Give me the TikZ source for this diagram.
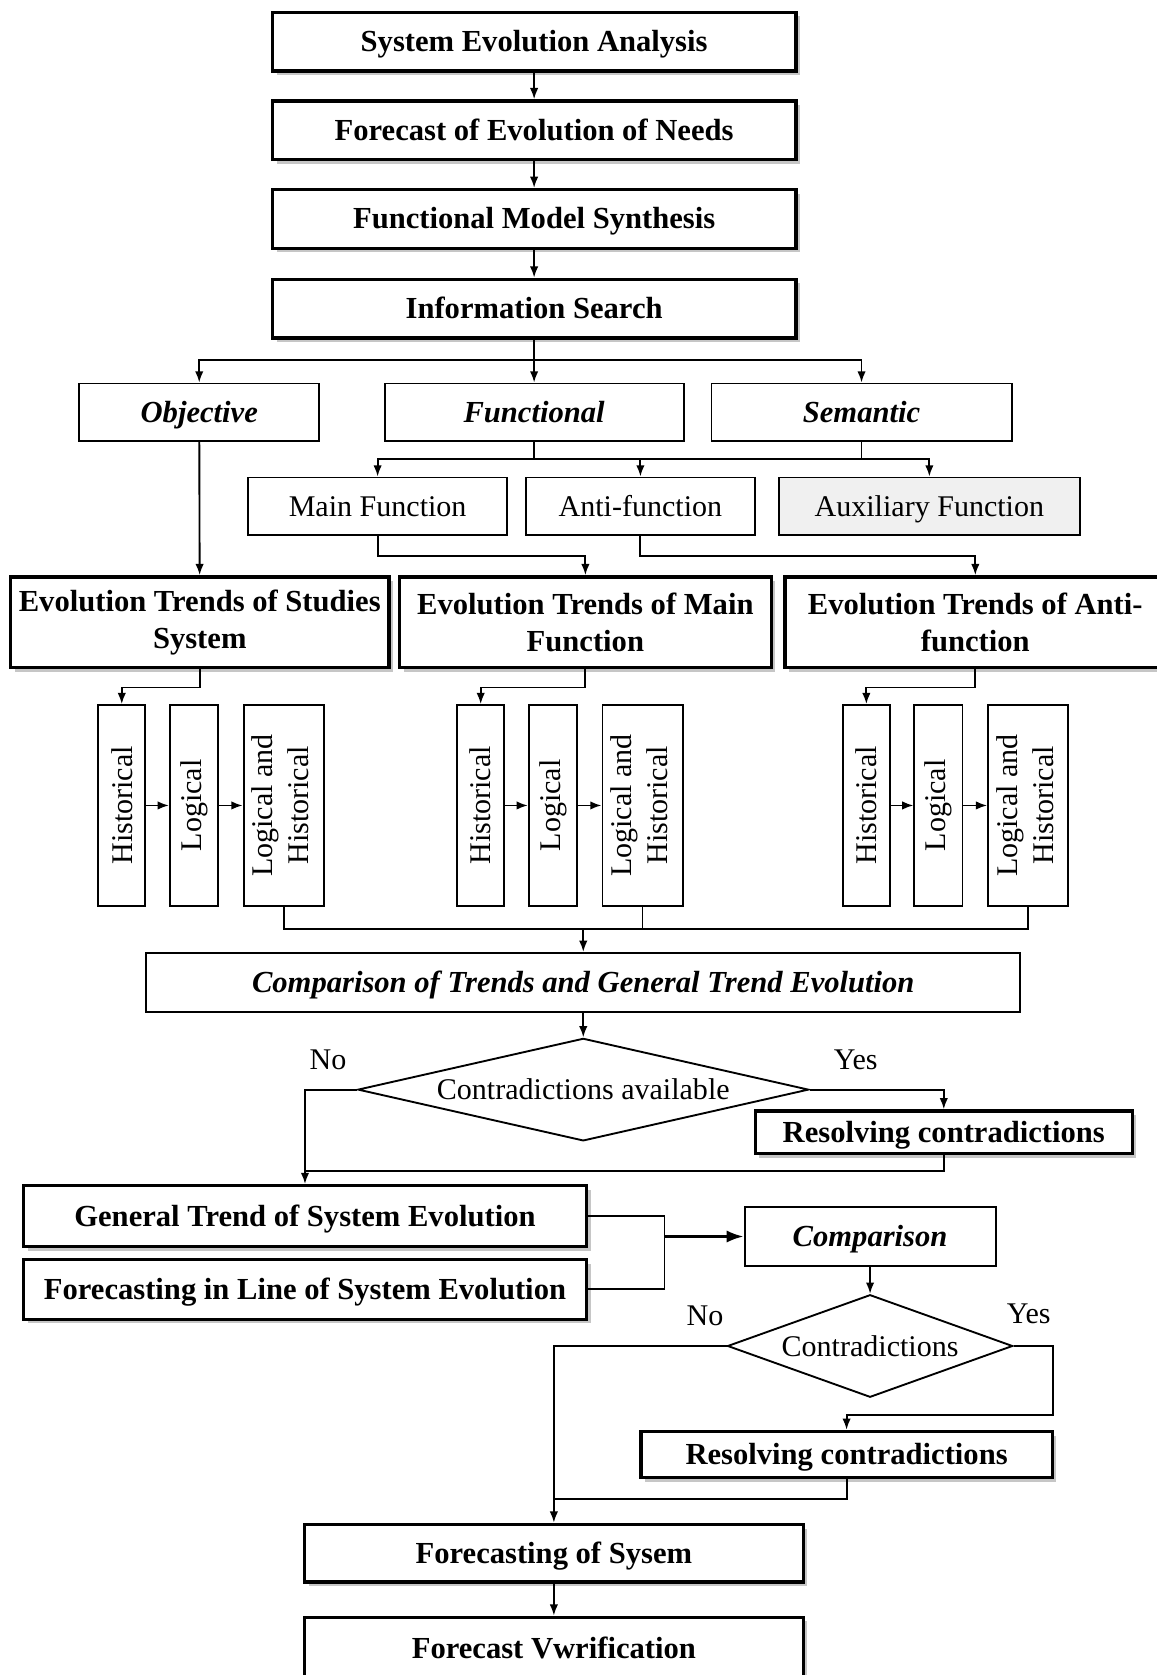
\documentclass[tikz,border=0pt]{standalone}
\usepackage{fontspec}
\setmainfont{Liberation Serif}
\usepackage{graphicx}
\usetikzlibrary{arrows.meta,positioning,calc,shapes.geometric,shadows}

\tikzset{
  sz/.style 2 args={minimum width=#1*0.2mm,minimum height=#2*0.2mm},
  oneline/.style={text height=12pt,text depth=1.5pt},
  mainbox/.style={draw,line width=1.8pt,fill=white,inner sep=1pt,align=center,
    font=\fontsize{16.3}{19.5}\selectfont\bfseries,
    drop shadow={shadow xshift=2.2pt,shadow yshift=-2.2pt,fill=gray!45,opacity=1}},
  catbox/.style={draw,line width=1pt,inner sep=1pt,oneline,font=\fontsize{16.3}{19.5}\selectfont\bfseries\itshape},
  funbox/.style={draw,line width=1pt,inner sep=1pt,oneline,font=\fontsize{16}{19}\selectfont},
  vbox/.style={draw,line width=1pt,inner sep=0pt,font=\fontsize{16}{19}\selectfont},
  decision/.style={diamond,draw,line width=1pt,inner sep=0pt,font=\fontsize{16}{19}\selectfont},
  ans/.style={font=\fontsize{16}{19}\selectfont},
  link/.style={line width=1pt},
  arr/.style={link,-{Latex[length=6pt,width=4.5pt]}},
  bigarr/.style={line width=1.5pt,-{Latex[length=9pt,width=6.5pt]}},
}

\begin{document}
\begin{tikzpicture}[x=0.2mm,y=-0.2mm]
  \useasboundingbox (0,0) rectangle (1083,1568);
  \clip (0,0) rectangle (1083,1568);

  % analysis chain
  \node[mainbox,oneline,sz={490}{55}] (sea) at (500,39) {System Evolution Analysis};
  \node[mainbox,oneline,sz={490}{55}] (fen) at (500,122) {Forecast of Evolution of Needs};
  \node[mainbox,oneline,sz={490}{55}] (fms) at (500,205) {Functional Model Synthesis};
  \node[mainbox,oneline,sz={490}{55}] (search) at (500,289) {Information Search};
  \draw[arr] (sea) -- (fen);
  \draw[arr] (fen) -- (fms);
  \draw[arr] (fms) -- (search);

  % kinds of information
  \node[catbox,sz={225}{54}] (obj) at (186.5,386) {Objective};
  \node[catbox,sz={280}{54}] (fun) at (500,386) {Functional};
  \node[catbox,sz={281}{54}] (sem) at (806.5,386) {Semantic};
  \coordinate (br1) at (500,337);
  \draw[link] (search) -- (br1);
  \draw[arr] (br1) -| (obj.north);
  \draw[arr] (br1) -- (fun);
  \draw[arr] (br1) -| (sem.north);

  \node[funbox,sz={243}{54}] (mf) at (353.5,474) {Main Function};
  \node[funbox,sz={215}{54}] (af) at (599.5,474) {Anti-function};
  \node[funbox,sz={282}{54},fill=gray!12] (aux) at (870,474) {Auxiliary Function};
  \coordinate (br2) at (599.5,430);
  \draw[link] (fun.south) -- (fun.south |- br2);
  \draw[link] (sem.south) -- (sem.south |- br2);
  \draw[arr] (br2) -| (mf.north);
  \draw[arr] (br2) -- (af);
  \draw[arr] (br2) -| (aux.north);

  % trends
  \node[mainbox,sz={354}{85}] (ets) at (187,582.5) {Evolution Trends of Studies\\System};
  \node[mainbox,sz={348}{85}] (etm) at (548,582.5) {Evolution Trends of Main\\Function};
  \node[mainbox,sz={356}{85}] (eta) at (913,582.5) {Evolution Trends of Anti-\\function};
  \draw[arr] (obj) -- (ets);
  \draw[arr] (mf.south) -- ++(0,19) -| (etm.north);
  \draw[arr] (af.south) -- ++(0,19) -| (eta.north);

  \coordinate (br3) at (546,870);
  \foreach \g/\x/\up in {1/114/ets,2/450/etm,3/811/eta}{
    \node[vbox,sz={44}{188}] (h\g) at (\x,754) {\rotatebox{90}{Historical}};
    \node[vbox,sz={45}{188}] (l\g) at (\x+67.5,754) {\rotatebox{90}{Logical}};
    \node[vbox,sz={75}{188}] (lh\g) at (\x+151.5,754)
      {\rotatebox{90}{\begin{tabular}{@{}c@{}}Logical and\\Historical\end{tabular}}};
    \draw[arr] (\up.south) -- ++(0,17) -| (h\g.north);
    \draw[arr] (h\g) -- (l\g);
    \draw[arr] (l\g) -- (lh\g);
    \draw[link] (lh\g.south) |- (br3);
  }

  \node[catbox,sz={818}{55}] (ctr) at (546,919.5) {Comparison of Trends and General Trend Evolution};
  \draw[arr] (br3) -- (ctr);

  % first check
  \node[decision,aspect=4.4,sz={422}{96}] (d1) at (546,1020) {Contradictions available};
  \node[ans] (no1) at (307,992) {No};
  \node[ans] (yes1) at (801,992) {Yes};
  \node[mainbox,oneline,sz={353}{40}] (rc1) at (883.5,1060) {Resolving contradictions};
  \node[mainbox,oneline,sz={527}{57}] (gtse) at (285.5,1138.5) {General Trend of System Evolution};
  \node[mainbox,oneline,sz={527}{56}] (flse) at (285.5,1207) {Forecasting in Line of System Evolution};
  \coordinate (j1) at (285.5,1096);
  \draw[arr] (ctr) -- (d1);
  \draw[arr] (d1.west) -| (gtse.north);
  \draw[arr] (d1.east) -| (rc1.north);
  \draw[link] (rc1.south) |- (j1);

  % second check
  \node[catbox,sz={235}{55}] (cmp) at (814.5,1157.5) {Comparison};
  \coordinate (j2) at (622,1157.5);
  \draw[link] (gtse.east) -| (j2) |- (flse.east);
  \draw[bigarr] (j2) -- (cmp);
  \node[decision,aspect=2.78,sz={267}{96}] (d2) at (814.5,1260) {Contradictions};
  \node[ans] (no2) at (660,1232) {No};
  \node[ans] (yes2) at (963,1230) {Yes};
  \node[mainbox,oneline,sz={385}{43}] (rc2) at (792.5,1361.5) {Resolving contradictions};
  \node[mainbox,oneline,sz={467}{54}] (fs) at (518.5,1454) {Forecasting of Sysem};
  \node[mainbox,oneline,sz={467}{58}] (fv) at (518.5,1543) {Forecast Vwrification};
  \coordinate (j3) at (518.5,1403);
  \draw[arr] (cmp) -- (d2);
  \draw[arr] (d2.west) -| (fs.north);
  \draw[arr] (d2.east) -- ++(37,0) -- ++(0,65) -| (rc2.north);
  \draw[link] (rc2.south) |- (j3);
  \draw[arr] (fs) -- (fv);
\end{tikzpicture}
\end{document}
